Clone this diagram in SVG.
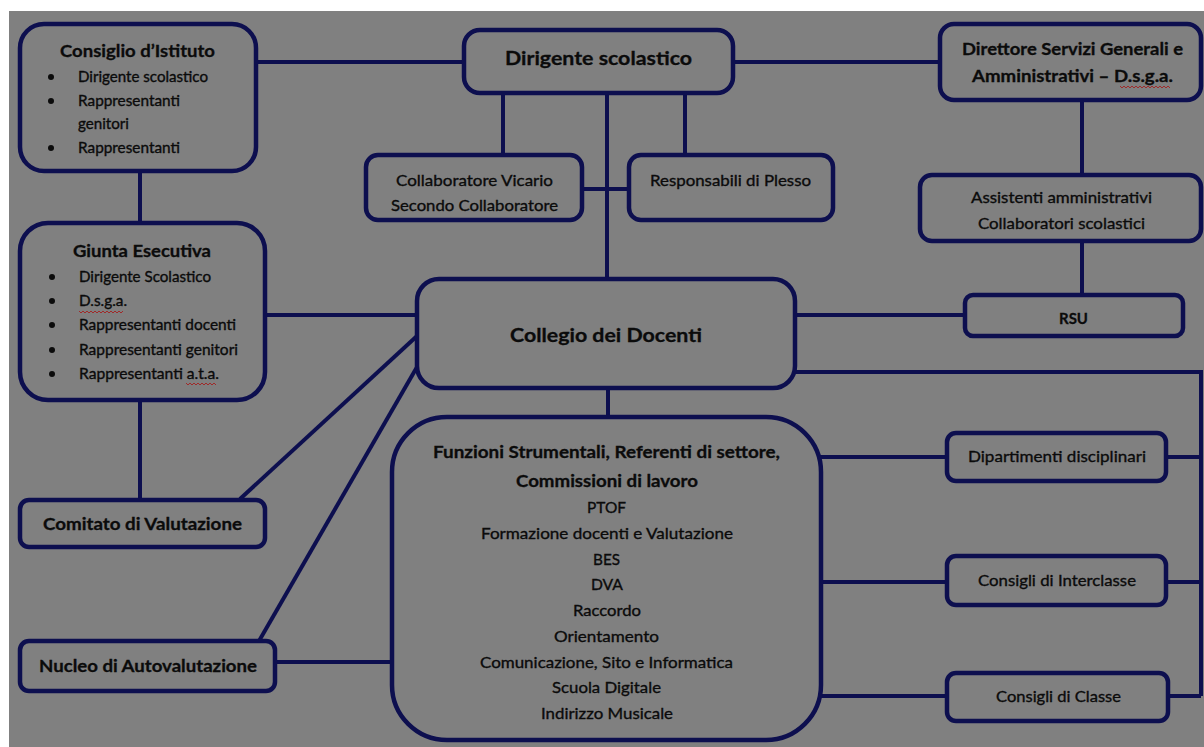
<svg xmlns="http://www.w3.org/2000/svg" width="1204" height="747" viewBox="0 0 1204 747">
<style>
.box{fill:#808080;stroke:#0d0f4f;stroke-width:4.5}
.conn{fill:none;stroke:#0d0f4f;stroke-width:4}
text{font-family:Lato,"Open Sans","DejaVu Sans",sans-serif;fill:#0b0b0b}
.h{font-weight:bold;font-size:17px;text-anchor:middle;stroke:#0b0b0b;stroke-width:0.3}
.H{font-weight:bold;font-size:19.5px;text-anchor:middle;stroke:#0b0b0b;stroke-width:0.3}
.c{font-size:16px;text-anchor:middle;stroke:#0b0b0b;stroke-width:0.35}
.li{font-size:15px;stroke:#0b0b0b;stroke-width:0.35}
.bul{fill:#0b0b0b}
.sq{fill:none;stroke:#a02a2a;stroke-width:1}
</style>
<rect x="0" y="0" width="1204" height="747" fill="#ffffff"/>
<rect x="9" y="11" width="1195" height="736" fill="#808080"/>
<g id="connectors">
<path class="conn" d="M256 62H464"/>
<path class="conn" d="M733 62H940"/>
<path class="conn" d="M503 93V155"/>
<path class="conn" d="M685 93V155"/>
<path class="conn" d="M607 93V279"/>
<path class="conn" d="M582 189H629"/>
<path class="conn" d="M1082 100V175"/>
<path class="conn" d="M1082 241V295"/>
<path class="conn" d="M795 315H965"/>
<path class="conn" d="M795 372H1201V696"/>
<path class="conn" d="M140 171V223"/>
<path class="conn" d="M265 315H417"/>
<path class="conn" d="M140 400V500"/>
<path class="conn" d="M417 336L240 499"/>
<path class="conn" d="M417 367L259 641"/>
<path class="conn" d="M608 388V417"/>
<path class="conn" d="M275 662H392"/>
<path class="conn" d="M815 457H1201"/>
<path class="conn" d="M815 582H1201"/>
<path class="conn" d="M815 696H1201"/>
</g>
<g id="consiglio">
<rect class="box" x="20" y="24" width="236" height="147" rx="24"/>
<text class="h" x="137.5" y="57" textLength="155" lengthAdjust="spacingAndGlyphs">Consiglio d’Istituto</text>
<circle class="bul" cx="51" cy="77" r="3"/>
<circle class="bul" cx="51" cy="101" r="3"/>
<circle class="bul" cx="51" cy="148" r="3"/>
<text class="li" x="78" y="82" textLength="130" lengthAdjust="spacingAndGlyphs">Dirigente scolastico</text>
<text class="li" x="78" y="106" textLength="102" lengthAdjust="spacingAndGlyphs">Rappresentanti</text>
<text class="li" x="78" y="129" textLength="51" lengthAdjust="spacingAndGlyphs">genitori</text>
<text class="li" x="78" y="153" textLength="102" lengthAdjust="spacingAndGlyphs">Rappresentanti</text>
</g>
<g id="dirigente">
<rect class="box" x="464" y="30" width="269" height="63" rx="16"/>
<text class="H" x="598.5" y="65" textLength="187" lengthAdjust="spacingAndGlyphs">Dirigente scolastico</text>
</g>
<g id="direttore">
<rect class="box" x="940" y="24" width="261" height="76" rx="14"/>
<text class="h" x="1072.5" y="55" textLength="221" lengthAdjust="spacingAndGlyphs">Direttore Servizi Generali e</text>
<text class="h" x="1072.5" y="82" textLength="201" lengthAdjust="spacingAndGlyphs">Amministrativi – D.s.g.a.</text>
<path class="sq" d="M1120 86l2 2 2-2 2 2 2-2 2 2 2-2 2 2 2-2 2 2 2-2 2 2 2-2 2 2 2-2 2 2 2-2 2 2 2-2 2 2 2-2 2 2 2-2 2 2 2-2 2 2"/>
</g>
<g id="collaboratore">
<rect class="box" x="366" y="155" width="216" height="65" rx="12"/>
<text class="c" x="474.5" y="186" textLength="157" lengthAdjust="spacingAndGlyphs">Collaboratore Vicario</text>
<text class="c" x="474.5" y="211" textLength="167" lengthAdjust="spacingAndGlyphs">Secondo Collaboratore</text>
</g>
<g id="responsabili">
<rect class="box" x="629" y="155" width="204" height="65" rx="12"/>
<text class="c" x="730.5" y="186" textLength="161" lengthAdjust="spacingAndGlyphs">Responsabili di Plesso</text>
</g>
<g id="assistenti">
<rect class="box" x="920" y="175" width="281" height="66" rx="12"/>
<text class="c" x="1061.5" y="203" textLength="181" lengthAdjust="spacingAndGlyphs">Assistenti amministrativi</text>
<text class="c" x="1061.5" y="229" textLength="167" lengthAdjust="spacingAndGlyphs">Collaboratori scolastici</text>
</g>
<g id="rsu">
<rect class="box" x="965" y="295" width="218" height="41" rx="8"/>
<text class="h" x="1073.5" y="324" textLength="29" lengthAdjust="spacingAndGlyphs" style="font-size:16px">RSU</text>
</g>
<g id="giunta">
<rect class="box" x="20" y="223" width="245" height="177" rx="28"/>
<text class="h" x="142" y="257" textLength="138" lengthAdjust="spacingAndGlyphs">Giunta Esecutiva</text>
<circle class="bul" cx="52" cy="277" r="3"/>
<circle class="bul" cx="52" cy="301" r="3"/>
<circle class="bul" cx="52" cy="325" r="3"/>
<circle class="bul" cx="52" cy="350" r="3"/>
<circle class="bul" cx="52" cy="374" r="3"/>
<text class="li" x="79" y="282" textLength="132" lengthAdjust="spacingAndGlyphs">Dirigente Scolastico</text>
<text class="li" x="79" y="306" textLength="48" lengthAdjust="spacingAndGlyphs">D.s.g.a.</text>
<text class="li" x="79" y="330" textLength="157" lengthAdjust="spacingAndGlyphs">Rappresentanti docenti</text>
<text class="li" x="79" y="355" textLength="159" lengthAdjust="spacingAndGlyphs">Rappresentanti genitori</text>
<text class="li" x="79" y="379" textLength="140" lengthAdjust="spacingAndGlyphs">Rappresentanti a.t.a.</text>
<path class="sq" d="M79 311l2 2 2-2 2 2 2-2 2 2 2-2 2 2 2-2 2 2 2-2 2 2 2-2 2 2 2-2 2 2 2-2 2 2 2-2 2 2 2-2 2 2 2-2"/>
<path class="sq" d="M186 383l2 2 2-2 2 2 2-2 2 2 2-2 2 2 2-2 2 2 2-2 2 2 2-2 2 2 2-2 2 2"/>
</g>
<g id="collegio">
<rect class="box" x="417" y="279" width="378" height="109" rx="22"/>
<text class="H" x="606" y="342" textLength="192" lengthAdjust="spacingAndGlyphs">Collegio dei Docenti</text>
</g>
<g id="comitato">
<rect class="box" x="20" y="500" width="245" height="47" rx="9"/>
<text class="h" x="142.5" y="530" textLength="199" lengthAdjust="spacingAndGlyphs">Comitato di Valutazione</text>
</g>
<g id="nucleo">
<rect class="box" x="20" y="641" width="255" height="50" rx="9"/>
<text class="h" x="148" y="672" textLength="218" lengthAdjust="spacingAndGlyphs">Nucleo di Autovalutazione</text>
</g>
<g id="funzioni">
<rect class="box" x="392" y="417" width="429" height="323" rx="55"/>
<text class="h" x="606.5" y="458" textLength="347" lengthAdjust="spacingAndGlyphs">Funzioni Strumentali, Referenti di settore,</text>
<text class="h" x="607" y="487" textLength="182" lengthAdjust="spacingAndGlyphs">Commissioni di lavoro</text>
<text class="c" x="606.5" y="513" textLength="39" lengthAdjust="spacingAndGlyphs">PTOF</text>
<text class="c" x="607" y="539" textLength="252" lengthAdjust="spacingAndGlyphs">Formazione docenti e Valutazione</text>
<text class="c" x="606.5" y="565" textLength="27" lengthAdjust="spacingAndGlyphs">BES</text>
<text class="c" x="607" y="590" textLength="32" lengthAdjust="spacingAndGlyphs">DVA</text>
<text class="c" x="607" y="616" textLength="68" lengthAdjust="spacingAndGlyphs">Raccordo</text>
<text class="c" x="606.5" y="642" textLength="105" lengthAdjust="spacingAndGlyphs">Orientamento</text>
<text class="c" x="606.5" y="668" textLength="253" lengthAdjust="spacingAndGlyphs">Comunicazione, Sito e Informatica</text>
<text class="c" x="606.5" y="693" textLength="109" lengthAdjust="spacingAndGlyphs">Scuola Digitale</text>
<text class="c" x="607" y="719" textLength="132" lengthAdjust="spacingAndGlyphs">Indirizzo Musicale</text>
</g>
<g id="dipartimenti">
<rect class="box" x="947" y="433" width="219" height="48" rx="9"/>
<text class="c" x="1057" y="462" textLength="178" lengthAdjust="spacingAndGlyphs">Dipartimenti disciplinari</text>
</g>
<g id="interclasse">
<rect class="box" x="947" y="556" width="219" height="49" rx="9"/>
<text class="c" x="1057" y="586" textLength="158" lengthAdjust="spacingAndGlyphs">Consigli di Interclasse</text>
</g>
<g id="classe">
<rect class="box" x="947" y="673" width="221" height="48" rx="9"/>
<text class="c" x="1058.5" y="702" textLength="125" lengthAdjust="spacingAndGlyphs">Consigli di Classe</text>
</g>
</svg>
